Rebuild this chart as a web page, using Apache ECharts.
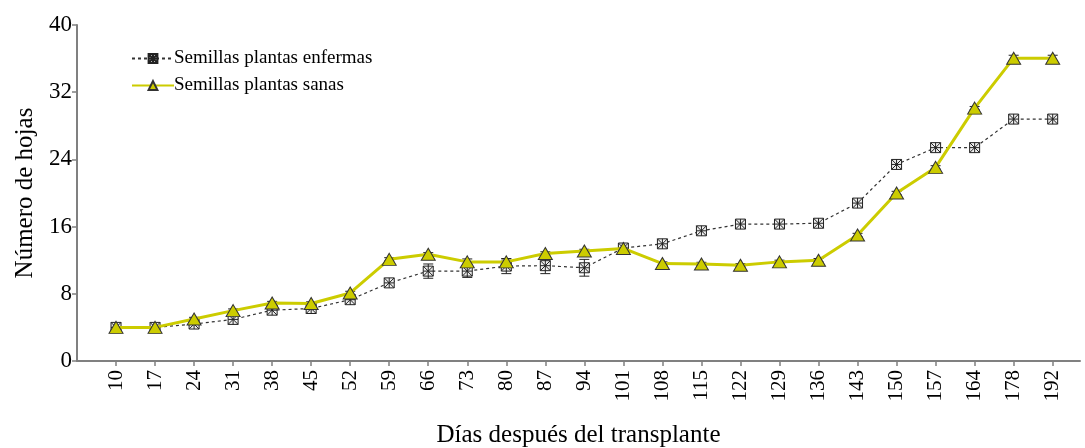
<!DOCTYPE html>
<html>
<head>
<meta charset="utf-8">
<script src="https://cdn.jsdelivr.net/npm/echarts@6/dist/echarts.min.js"></script>
<style>
  html, body { margin: 0; padding: 0; background: #fff; }
  #chart { width: 1085px; height: 448px; }
</style>
</head>
<body>
<div id="chart"></div>
<script>
// días después del transplante
const dias = ['10', '17', '24', '31', '38', '45', '52', '59', '66', '73', '80', '87', '94',
  '101', '108', '115', '122', '129', '136', '143', '150', '157', '164', '178', '192'];

// Semillas plantas enfermas (media y error)
const enfermas = [4.0, 4.0, 4.4, 4.95, 6.05, 6.25, 7.3, 9.3, 10.7, 10.7, 11.3, 11.35, 11.1,
  13.45, 13.95, 15.5, 16.3, 16.3, 16.4, 18.8, 23.4, 25.4, 25.4, 28.8, 28.8];
const enfermasErr = [0.2, 0.2, 0.3, 0.3, 0.3, 0.3, 0.3, 0.3, 0.85, 0.75, 0.9, 0.95, 1.0,
  0.3, 0.3, 0.3, 0.3, 0.3, 0.3, 0.3, 0.3, 0.3, 0.3, 0.3, 0.3];

// Semillas plantas sanas (media y error)
const sanas = [4.0, 4.0, 5.0, 6.0, 6.9, 6.85, 8.1, 12.1, 12.7, 11.8, 11.8, 12.8, 13.1,
  13.4, 11.6, 11.55, 11.4, 11.8, 12.0, 15.0, 20.0, 23.05, 30.1, 36.05, 36.05];
const sanasErr = [0.2, 0.2, 0.2, 0.2, 0.2, 0.2, 0.2, 0.2, 0.2, 0.35, 0.35, 0.2, 0.2,
  0.2, 0.2, 0.2, 0.2, 0.2, 0.2, 0.2, 0.2, 0.2, 0.2, 0.35, 0.35];

const yTicks = [0, 8, 16, 24, 32, 40];

const serif = '"Liberation Serif", "DejaVu Serif", serif';
const idx = dias.map((d, i) => i);

const chart = echarts.init(document.getElementById('chart'));

function errorSeries(vals, errs, z) {
  return {
    type: 'custom',
    z: z,
    silent: true,
    data: vals.map((v, i) => [i, v - errs[i], v + errs[i]]),
    renderItem: function (params, api) {
      const x = api.value(0);
      const lo = api.coord([x, api.value(1)]);
      const hi = api.coord([x, api.value(2)]);
      const w = 5;
      const st = { stroke: '#222', lineWidth: 1 };
      return {
        type: 'group',
        children: [
          { type: 'line', shape: { x1: lo[0], y1: lo[1], x2: hi[0], y2: hi[1] }, style: st },
          { type: 'line', shape: { x1: lo[0] - w, y1: lo[1], x2: lo[0] + w, y2: lo[1] }, style: st },
          { type: 'line', shape: { x1: hi[0] - w, y1: hi[1], x2: hi[0] + w, y2: hi[1] }, style: st }
        ]
      };
    }
  };
}

const option = {
  animation: false,
  backgroundColor: '#fff',
  textStyle: { fontFamily: serif },
  grid: { left: 77, right: 5, top: 25, bottom: 87, containLabel: false, outerBoundsMode: 'none' },
  legend: {
    orient: 'vertical',
    left: 126,
    top: 44,
    itemWidth: 42,
    itemHeight: 11,
    itemGap: 8,
    data: ['Semillas plantas enfermas', 'Semillas plantas sanas'],
    textStyle: { fontFamily: serif, fontSize: 19, color: '#000', padding: [0, 0, 0, -5] }
  },
  xAxis: {
    type: 'value',
    min: -1,
    max: 24.7,
    interval: 1,
    name: 'Días después del transplante',
    nameLocation: 'middle',
    nameGap: 62,
    nameTextStyle: { fontFamily: serif, fontSize: 25, color: '#000' },
    splitLine: { show: false },
    axisLine: { onZero: false, lineStyle: { color: '#808080', width: 2 } },
    axisTick: { customValues: idx, length: 5, lineStyle: { color: '#808080', width: 1.5 } },
    axisLabel: {
      customValues: idx,
      rotate: 90,
      margin: 9,
      fontFamily: serif,
      fontSize: 21,
      color: '#000',
      formatter: v => dias[Math.round(v)]
    }
  },
  yAxis: {
    type: 'value',
    min: 0,
    max: 40,
    interval: 8,
    name: 'Número de hojas',
    nameLocation: 'middle',
    nameGap: 27,
    nameTextStyle: { fontFamily: serif, fontSize: 25, color: '#000' },
    splitLine: { show: false },
    axisLine: { show: true, onZero: false, lineStyle: { color: '#808080', width: 2 } },
    axisTick: { show: true, length: 5, lineStyle: { color: '#808080', width: 1.5 } },
    axisLabel: {
      margin: 5,
      fontFamily: serif,
      fontSize: 23,
      color: '#000',
      formatter: v => (yTicks.indexOf(v) >= 0 ? String(v) : '')
    }
  },
  series: [
    errorSeries(enfermas, enfermasErr, 2),
    errorSeries(sanas, sanasErr, 2),
    {
      name: 'Semillas plantas enfermas',
      type: 'line',
      z: 3,
      data: enfermas.map((v, i) => [i, v]),
      symbol: 'path://M0,0 L10,0 L10,10 L0,10 Z M0,0 L10,10 M10,0 L0,10 M5,0 L5,10 M0,5 L10,5',
      symbolSize: 10,
      itemStyle: { color: '#eee', borderColor: '#222', borderWidth: 1 },
      lineStyle: { color: '#333', width: 1.2, type: [3, 3] }
    },
    {
      name: 'Semillas plantas sanas',
      type: 'line',
      z: 4,
      data: sanas.map((v, i) => [i, v]),
      symbol: 'triangle',
      symbolSize: [14, 12],
      itemStyle: { color: '#cccc00', borderColor: '#333', borderWidth: 1 },
      lineStyle: { color: '#cccc00', width: 3 }
    }
  ]
};

chart.setOption(option);
</script>
</body>
</html>
